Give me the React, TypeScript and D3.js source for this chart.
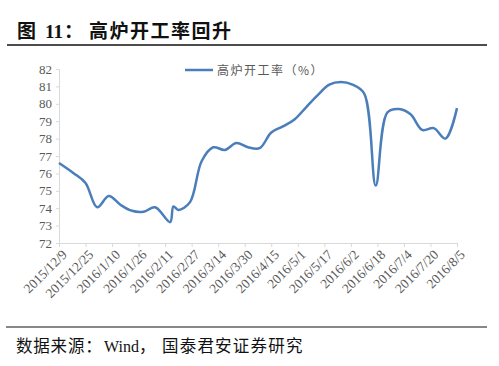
import React, { useEffect, useRef } from "react";
import * as d3 from "d3";

// weekly blast furnace operating rate (%)
const dates = [
  "2015/12/9", "2015/12/18", "2015/12/25", "2016/1/1", "2016/1/8", "2016/1/15",
  "2016/1/22", "2016/1/29", "2016/2/5", "2016/2/14", "2016/2/16", "2016/2/19",
  "2016/2/26", "2016/3/4", "2016/3/11", "2016/3/18", "2016/3/25", "2016/4/1",
  "2016/4/8", "2016/4/15", "2016/4/22", "2016/4/29", "2016/5/6", "2016/5/13",
  "2016/5/20", "2016/5/27", "2016/6/3", "2016/6/10", "2016/6/17", "2016/6/24",
  "2016/7/1", "2016/7/8", "2016/7/15", "2016/7/22", "2016/7/29", "2016/8/5",
];
const rates = [
  76.6, 76.0, 75.45, 74.05, 74.7, 74.2,
  73.85, 73.8, 74.05, 73.2, 74.1, 73.9,
  74.35, 76.7, 77.5, 77.35, 77.75, 77.5,
  77.45, 78.35, 78.7, 79.1, 79.8, 80.5,
  81.1, 81.25, 81.1, 80.6, 75.3, 79.5,
  79.7, 79.4, 78.5, 78.6, 78.0, 79.75,
];
const xTickLabels = [
  "2015/12/9", "2015/12/25", "2016/1/10", "2016/1/26", "2016/2/11", "2016/2/27",
  "2016/3/14", "2016/3/30", "2016/4/15", "2016/5/1", "2016/5/17", "2016/6/2",
  "2016/6/18", "2016/7/4", "2016/7/20", "2016/8/5",
];
const yTicks = [72, 73, 74, 75, 76, 77, 78, 79, 80, 81, 82];
const seriesName = "高炉开工率（%）";

const W = 499;
const H = 366;
const parse = d3.timeParse("%Y/%m/%d");

export default function App() {
  const ref = useRef<SVGSVGElement>(null);

  useEffect(() => {
    if (!ref.current) return;
    const svg = d3.select(ref.current);
    svg.selectAll("*").remove();

    const gray = "#595959";
    const serif = "'Liberation Serif', 'Times New Roman', serif";
    const cjk = "'Noto Sans CJK SC', sans-serif";

    // title
    const title = svg.append("text").attr("y", 38)
      .attr("font-family", cjk).attr("font-weight", "bold").attr("font-size", 19)
      .attr("fill", "#111");
    title.append("tspan").attr("x", 17).text("图");
    title.append("tspan").attr("x", 45).attr("font-family", serif).text("11");
    title.append("tspan").attr("x", 64).text("：");
    title.append("tspan").attr("x", 89).attr("letter-spacing", 1.5).text("高炉开工率回升");
    svg.append("line").attr("x1", 7).attr("x2", 487).attr("y1", 45).attr("y2", 45)
      .attr("stroke", "#111").attr("stroke-width", 1.5);

    const ticks = xTickLabels.map((s) => parse(s)!);
    const x = d3.scaleTime()
      .domain([ticks[0], ticks[ticks.length - 1]])
      .range([59, 457]);
    const y = d3.scaleLinear().domain([72, 82]).range([243, 69]);

    // axes
    const yAxis = svg.append("g").attr("transform", "translate(59,0)")
      .call(d3.axisLeft(y).tickValues(yTicks).tickSize(3).tickPadding(4));
    yAxis.select(".domain").attr("stroke", "#d9d9d9");
    yAxis.selectAll(".tick line").attr("stroke", "#d9d9d9");
    yAxis.selectAll(".tick text").attr("fill", gray)
      .attr("font-family", serif).attr("font-size", 13);

    const xAxis = svg.append("g").attr("transform", "translate(0,243)")
      .call(d3.axisBottom(x).tickValues(ticks).tickSize(4)
        .tickSizeOuter(0).tickFormat((d: any, i: number) => xTickLabels[i]));
    xAxis.select(".domain").attr("stroke", "#d9d9d9");
    xAxis.selectAll(".tick line").attr("stroke", "#d9d9d9");
    xAxis.selectAll(".tick text").attr("fill", gray)
      .attr("font-family", serif).attr("font-size", 13.5)
      .attr("text-anchor", "end")
      .attr("transform", "translate(5,9) rotate(-45)")
      .attr("dy", "0.35em").attr("y", 0).attr("x", 0);

    // line
    const pts = dates.map((d, i) => ({ d: parse(d)!, v: rates[i] }));
    const line = d3.line<{ d: Date; v: number }>()
      .x((p) => x(p.d)).y((p) => y(p.v))
      .curve(d3.curveCatmullRom.alpha(0.5));
    svg.append("path").datum(pts).attr("d", line)
      .attr("fill", "none").attr("stroke", "#4a7ebb").attr("stroke-width", 2.5)
      .attr("stroke-linejoin", "round");

    // legend
    svg.append("line").attr("x1", 185).attr("x2", 213).attr("y1", 70).attr("y2", 70)
      .attr("stroke", "#4a7ebb").attr("stroke-width", 2.5);
    svg.append("text").attr("x", 217).attr("y", 74.5)
      .attr("font-family", cjk).attr("font-size", 12).attr("fill", gray)
      .attr("letter-spacing", 1.5).text(seriesName);

    // source
    svg.append("line").attr("x1", 6).attr("x2", 487).attr("y1", 327).attr("y2", 327)
      .attr("stroke", "#111").attr("stroke-width", 1.2);
    const src = svg.append("text").attr("y", 352)
      .attr("font-family", cjk).attr("font-size", 16.5).attr("fill", "#111");
    src.append("tspan").attr("x", 16).attr("letter-spacing", 0.8).text("数据来源：");
    src.append("tspan").attr("x", 104).attr("font-family", serif).attr("font-size", 16).text("Wind");
    src.append("tspan").text("，");
    src.append("tspan").attr("x", 162).attr("letter-spacing", 1.2).text("国泰君安证券研究");
  }, []);

  return (
    <svg ref={ref} width={W} height={H}
      style={{ position: "absolute", left: 0, top: 0, background: "#fff" }} />
  );
}
